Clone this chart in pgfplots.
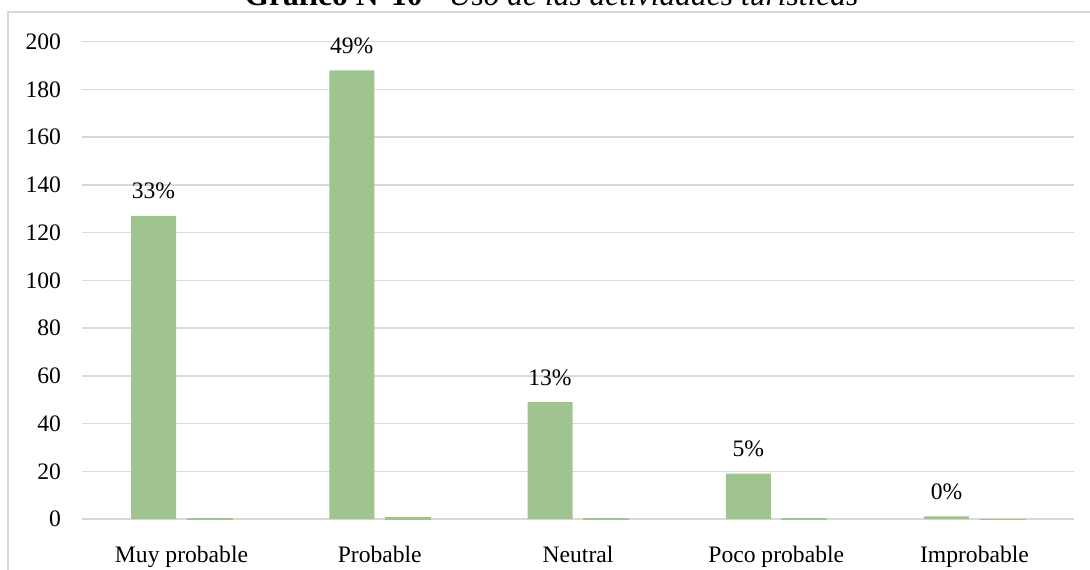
\documentclass[border=0pt]{standalone}
\usepackage{pgfplots}
\pgfplotsset{compat=1.18}
\usepackage{fontspec}
\setmainfont{Liberation Serif}
\definecolor{barg}{HTML}{A0C48F}
\definecolor{gridg}{HTML}{D9D9D9}
\begin{document}
\begin{tikzpicture}
\begin{axis}[
  scale only axis, width=495.6pt, height=238.65pt,
  xmin=-0.5, xmax=4.5, ymin=0, ymax=200,
  ytick={0,20,...,200},
  xtick={0,1,2,3,4},
  xticklabels={Muy probable, Probable, Neutral, Poco probable, Improbable},
  axis x line*=bottom, axis y line*=left,
  x axis line style={gridg, line width=0.75pt, -},
  y axis line style={draw=none},
  tick style={draw=none},
  ymajorgrids, grid style={gridg, line width=0.7pt},
  ybar, bar width=22.5pt,
  /pgf/number format/assume math mode=true,
  ticklabel style={font=\fontsize{11.8}{14}\selectfont},
  yticklabel style={inner sep=0pt, xshift=-10.5pt},
  xticklabel style={anchor=base, inner sep=0pt, yshift=-17.5pt},
  clip=false,
]
\addplot[fill=barg, draw=none, bar shift=-14pt, point meta=explicit symbolic,
  nodes near coords,
  every node near coord/.append style={anchor=base, inner sep=0pt, yshift=8.5pt, font=\fontsize{11.8}{14}\selectfont}]
  coordinates {(0,127)[33\%] (1,188)[49\%] (2,49)[13\%] (3,19)[5\%] (4,1.1)[0\%]};
\addplot[fill=barg, draw=barg, line width=0.4pt, bar shift=14pt]
  coordinates {(0,0.33) (1,0.49) (2,0.13) (3,0.05) (4,0.01)};
\coordinate (SW) at (rel axis cs:0,0);
\end{axis}
\pgfresetboundingbox
\coordinate (P) at ([shift={(-41.2pt,-25pt)}]SW);
\path[use as bounding box] (P) rectangle ([shift={(545pt,284.5pt)}]P);
\draw[gridg, line width=0.75pt] ([shift={(4pt,278.5pt)}]P) rectangle ([shift={(580pt,-30pt)}]P);
\node[anchor=base, inner sep=0pt, font=\fontsize{15.75}{18}\selectfont] at ([shift={(275.75pt,282pt)}]P) {\textbf{Gráfico N°10} - \textit{Uso de las actividades turísticas}};
\end{tikzpicture}
\end{document}
